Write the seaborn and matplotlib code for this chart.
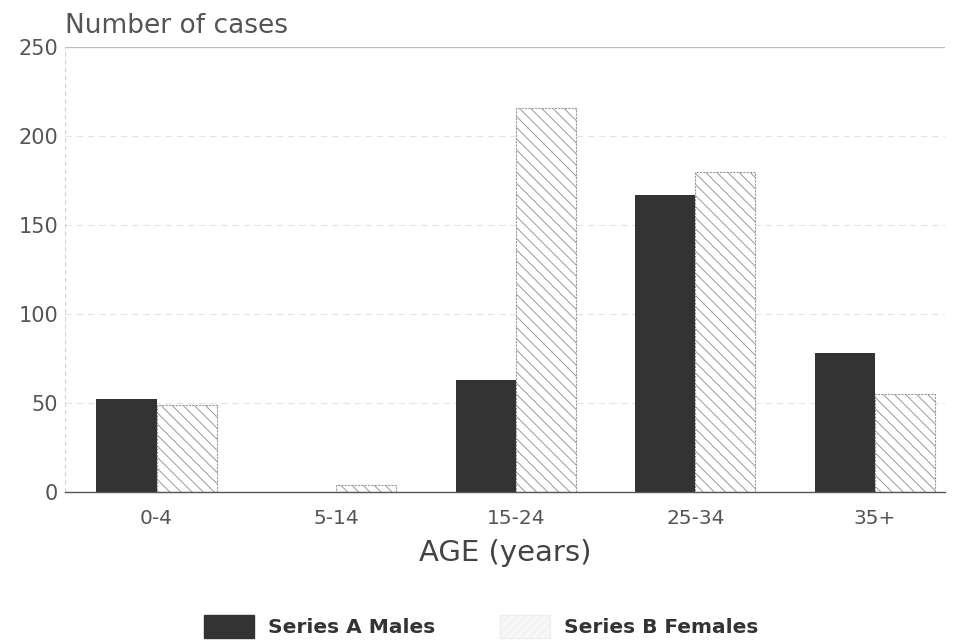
import matplotlib
matplotlib.use("Agg")
import matplotlib.pyplot as plt
from matplotlib.patches import Patch
import seaborn as sns
import pandas as pd

categories = ["0-4", "5-14", "15-24", "25-34", "35+"]
males = [52, 0, 63, 167, 78]
females = [49, 4, 216, 180, 55]
series_names = ["Series A Males", "Series B Females"]
yticks = [0, 50, 100, 150, 200, 250]

df = pd.DataFrame({
    "age": categories * 2,
    "cases": males + females,
    "series": [series_names[0]] * len(categories) + [series_names[1]] * len(categories),
})

sns.set_theme(style="white")
plt.rcParams['font.family'] = ['DejaVu Sans']
plt.rcParams['hatch.color'] = '#7a7a7a'
plt.rcParams['hatch.linewidth'] = 0.7

fig = plt.figure(figsize=(9.55, 6.42), dpi=100)
ax = fig.add_axes([0.068, 0.2336, 0.9215, 0.6932])

sns.barplot(data=df, x="age", y="cases", hue="series", order=categories,
            hue_order=series_names, palette=["#333333", "white"],
            width=0.67, saturation=1, ax=ax, legend=False)

for bar in ax.containers[0]:
    bar.set_edgecolor("#333333")
    bar.set_linewidth(0)
for bar in ax.containers[1]:
    bar.set_facecolor("white")
    bar.set_edgecolor("#9a9a9a")
    bar.set_hatch("\\\\\\")
    bar.set_linewidth(0.8)
    bar.set_linestyle((0, (2, 1)))

ax.set_ylim(0, 250)
ax.set_xlim(-0.51, 4.39)
ax.set_yticks(yticks)
ax.set_yticklabels([str(v) for v in yticks], fontsize=15, color="#555555")
ax.tick_params(axis="x", labelsize=14.5, colors="#555555", length=0, pad=12)
ax.tick_params(axis="y", length=0, pad=5)
for t in ax.get_xticklabels():
    t.set_color("#555555")

for v in yticks[1:-1]:
    ax.axhline(v, color="#e4e4e4", lw=0.8, ls=(0, (6, 4)), zorder=0)

for s in ["left", "top", "right"]:
    ax.spines[s].set_visible(False)
ax.axhline(250, color="#bbbbbb", lw=0.9, zorder=0)
ax.axvline(-0.51, color="#d0d0d0", lw=0.8, ls=(0, (4, 3)), zorder=0)
ax.spines["bottom"].set_color("#555555")
ax.spines["bottom"].set_linewidth(1.0)

ax.set_xlabel("AGE (years)", fontsize=21, color="#444444", labelpad=8)
ax.set_ylabel("")
fig.text(0.068, 0.94, "Number of cases", fontsize=19, color="#555555",
         ha="left", va="bottom")

handles = [
    Patch(facecolor="#333333", edgecolor="#333333", label=series_names[0]),
    Patch(facecolor="#f7f7f7", edgecolor="#eeeeee", hatch="////", label=series_names[1]),
]
leg = fig.legend(handles=handles, loc="lower left", bbox_to_anchor=(0.205, -0.006),
                 ncol=2, frameon=False, handlelength=2.5, handleheight=1.35,
                 columnspacing=3.2, handletextpad=0.7, borderaxespad=0.0,
                 prop={"size": 14.5, "weight": "bold"})
for t in leg.get_texts():
    t.set_color("#333333")

fig.savefig("out.png", dpi=100)
